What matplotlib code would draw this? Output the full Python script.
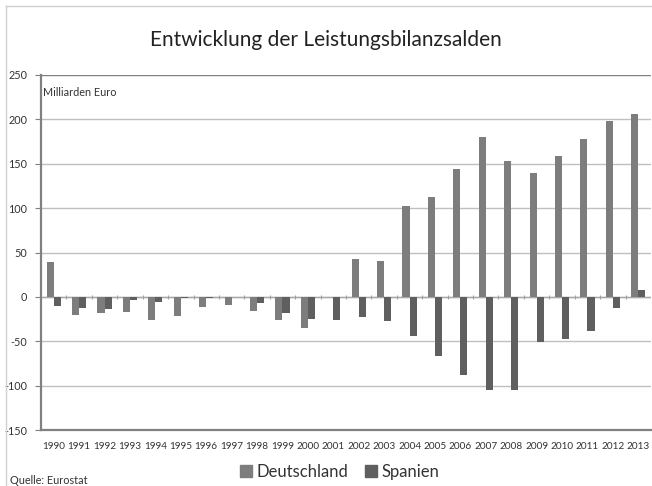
import matplotlib.pyplot as plt
from matplotlib.patches import Patch
from matplotlib.lines import Line2D
import numpy as np

years = [str(y) for y in range(1990, 2014)]
deutschland = [39.5, -20, -18, -16.5, -25.5, -22, -11, -9, -15.5, -26.5, -35.5, -0.5,
               43, 40.5, 102, 112, 144, 180, 153, 140, 158.5, 178, 198, 205.5]
spanien = [-10.5, -12.5, -14, -4, -5.5, -1, -1, -0.5, -7, -18, -25, -26.5,
           -23, -27, -44.5, -67, -88.5, -104.5, -104.5, -50.5, -47, -39, -12.5, 7.5]

c_de = "#7d7d7d"
c_es = "#5f5f5f"
font = "Lato"
W, H = 652, 486

fig = plt.figure(figsize=(W / 100, H / 100), dpi=100)
ax = fig.add_axes([41 / W, (H - 430) / H, 610 / W, 355 / H])

x = np.arange(len(years))
bw = 0.28
ax.bar(x - bw / 2, deutschland, bw, color=c_de, zorder=3)
ax.bar(x + bw / 2, spanien, bw, color=c_es, zorder=3)

ax.set_xlim(-0.5, len(years) - 0.5)
ax.set_ylim(-150, 250)
ax.set_yticks(range(-150, 251, 50))
ax.set_yticklabels([str(v) for v in range(-150, 251, 50)], fontfamily=font, fontsize=7.8, color="#333333")
ax.set_xticks([])
for v in range(-100, 251, 50):
    ax.axhline(v, color="#c0c0c0", lw=1.0, zorder=1)
ax.axhline(0, color="#a8a8a8", lw=1.0, zorder=2)
ax.axhline(250, color="#808080", lw=1.6, zorder=2)
ax.vlines(np.arange(len(years) - 1) + 0.5, -2, 2.5, color="#a0a0a0", lw=0.8, zorder=2)

for s in ["top", "right"]:
    ax.spines[s].set_visible(False)
for s in ["left", "bottom"]:
    ax.spines[s].set_color("#808080")
    ax.spines[s].set_linewidth(1.6)
ax.tick_params(axis="y", length=4, color="#808080", pad=6)

for i, yr in enumerate(years):
    ax.text(i, -163, yr, ha="center", va="top", fontfamily=font, fontsize=7.2, color="#333333")

ax.text(0.003, 0.965, "Milliarden Euro", transform=ax.transAxes, ha="left", va="top",
        fontfamily=font, fontsize=7.8, color="#333333")

fig.text(0.5, (H - 40) / H, "Entwicklung der Leistungsbilanzsalden", ha="center", va="center",
         fontfamily=font, fontsize=15, color="#222222")
fig.text(10 / W, (H - 480) / H, "Quelle: Eurostat", ha="left", va="center",
         fontfamily=font, fontsize=7.8, color="#333333")

handles = [Patch(color=c_de, label="Deutschland"), Patch(color=c_es, label="Spanien")]
fig.legend(handles=handles, loc="center", bbox_to_anchor=(340 / W, (H - 472) / H), ncol=2,
           frameon=False, prop={"family": font, "size": 12}, handlelength=0.7, handleheight=0.7,
           handletextpad=0.3, columnspacing=1.0, labelcolor="#333333")

# outer chart frame
fig.add_artist(Line2D([6 / W, 1], [(H - 6) / H] * 2, color="#d0d0d0", lw=1.0))
fig.add_artist(Line2D([6 / W] * 2, [0, (H - 6) / H], color="#d0d0d0", lw=1.0))

fig.savefig("out.png", dpi=100)
